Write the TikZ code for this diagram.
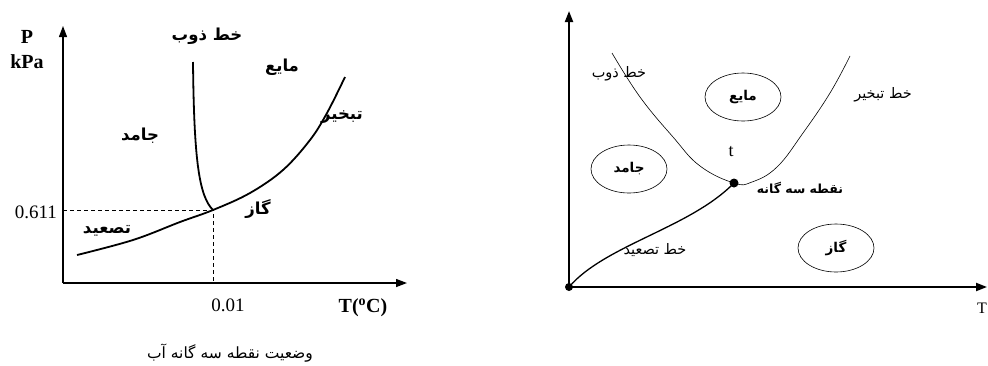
\documentclass[tikz,border=0pt]{standalone}
\usepackage{fontspec}
\setmainfont{Liberation Serif}
\newfontfamily\arabicfont[Script=Arabic]{DejaVu Sans}
\TeXXeTstate=1
\usetikzlibrary{arrows.meta,shapes.geometric}
\newcommand{\artxt}[1]{{\arabicfont\beginR #1\endR}}
\begin{document}
\begin{tikzpicture}[x=1pt,y=-1pt,
  axisL/.style={line width=1.3pt,-{Triangle[length=11pt,width=8pt]}},
  axisR/.style={line width=2pt,-{Triangle[length=11pt,width=8pt]}},
  curveL/.style={line width=1.8pt},
  thinc/.style={line width=0.6pt},
  subl/.style={line width=1.3pt},
  dashln/.style={line width=0.8pt,dash pattern=on 4pt off 3pt},
  lbl/.style={inner sep=0pt,font=\fontsize{19}{21}\selectfont},
  lblb/.style={inner sep=0pt,font=\fontsize{20}{22}\selectfont\bfseries},
  arL/.style={inner sep=0pt,font=\fontsize{16.5}{18}\selectfont\bfseries},
  arR/.style={inner sep=0pt,font=\fontsize{14.5}{16}\selectfont},
  arRb/.style={inner sep=0pt,font=\fontsize{12.5}{14}\selectfont\bfseries},
  region/.style={draw,ellipse,line width=0.6pt,minimum width=76pt,minimum height=48pt,inner sep=0pt,font=\fontsize{13.5}{15}\selectfont\bfseries},
  dot/.style={circle,fill=black,inner sep=0pt,minimum size=#1}]
\useasboundingbox (0,0) rectangle (988,365);
% ---------- left diagram ----------
\coordinate (Lo) at (63,283);
\coordinate (Ly) at (63,26);
\coordinate (Lx) at (407,283);
\draw[axisL] (Lo) -- (Ly);
\draw[axisL] (Lo) -- (Lx);
\coordinate (Ltp) at (213,210);
\coordinate (Lmtop) at (193,62);
\coordinate (Lpy) at (63,210);
\coordinate (Ltx) at (213,283);
\draw[dashln] (Lpy) -- (Ltp) -- (Ltx);
\draw[curveL] (Lmtop) .. controls (194,160) and (199,196) .. (Ltp);
\draw[curveL] plot[smooth,tension=0.6] coordinates {(77,255) (133,240) (180,222) (213,210) (250,193) (283,170) (310,140) (327,113) (345,77)};
\node[lblb] (LP) at (27,37) {P};
\node[lblb] (LkPa) at (27,62) {kPa};
\node[lbl,anchor=east] (L611) at (57,212) {0.611};
\node[lbl] (L001) at (228,305) {0.01};
\node[lblb] (LT) at (363,308) {T(\textsuperscript{o}C)};
\node[arL] (Lmelt) at (207,36) {\artxt{خط ذوب}};
\node[arL] (Lliq) at (282,67) {\artxt{مایع}};
\node[arL] (Lsol) at (140,136) {\artxt{جامد}};
\node[arL] (Lev) at (342,117) {\artxt{تبخیر}};
\node[arL] (Lgas) at (258,209) {\artxt{گاز}};
\node[arL] (Lsb) at (107,231) {\artxt{تصعید}};
\node[inner sep=0pt,font=\fontsize{15.5}{17}\selectfont] (Lcap) at (230,353) {\artxt{وضعیت نقطه سه گانه آب}};
% ---------- right diagram ----------
\coordinate (Ro) at (569,287);
\coordinate (Ry) at (569,11);
\coordinate (Rx) at (987,287);
\draw[axisR] (Ro) -- (Ry);
\draw[axisR] (Ro) -- (Rx);
\node[dot=8pt] (Rorig) at (569,287) {};
\node[dot=9pt] (Rtp) at (734,183) {};
\draw[thinc] plot[smooth,tension=0.7] coordinates {(612,53) (640,97) (673,137) (700,166) (734,183) (752,182) (777,167) (803,133) (830,93) (850,56)};
\draw[subl] (Rorig.center) .. controls (605,245) and (690,228) .. (Rtp.center);
\node[region] (Eliq) at (743,97) {\artxt{مایع}};
\node[region] (Esol) at (629,169) {\artxt{جامد}};
\node[region] (Egas) at (836,248) {\artxt{گاز}};
\node[arR] (Rmelt) at (619,74) {\artxt{خط ذوب}};
\node[arR] (Rev) at (883,95) {\artxt{خط تبخیر}};
\node[inner sep=0pt,font=\fontsize{18}{20}\selectfont] (Rt) at (731,152) {t};
\node[arRb] (Rtrip) at (800,188) {\artxt{نقطه سه گانه}};
\node[arR] (Rsb) at (655,250) {\artxt{خط تصعید}};
\node[inner sep=0pt,anchor=east,font=\fontsize{16}{18}\selectfont] (RT) at (987,308) {T};
\end{tikzpicture}
\end{document}
